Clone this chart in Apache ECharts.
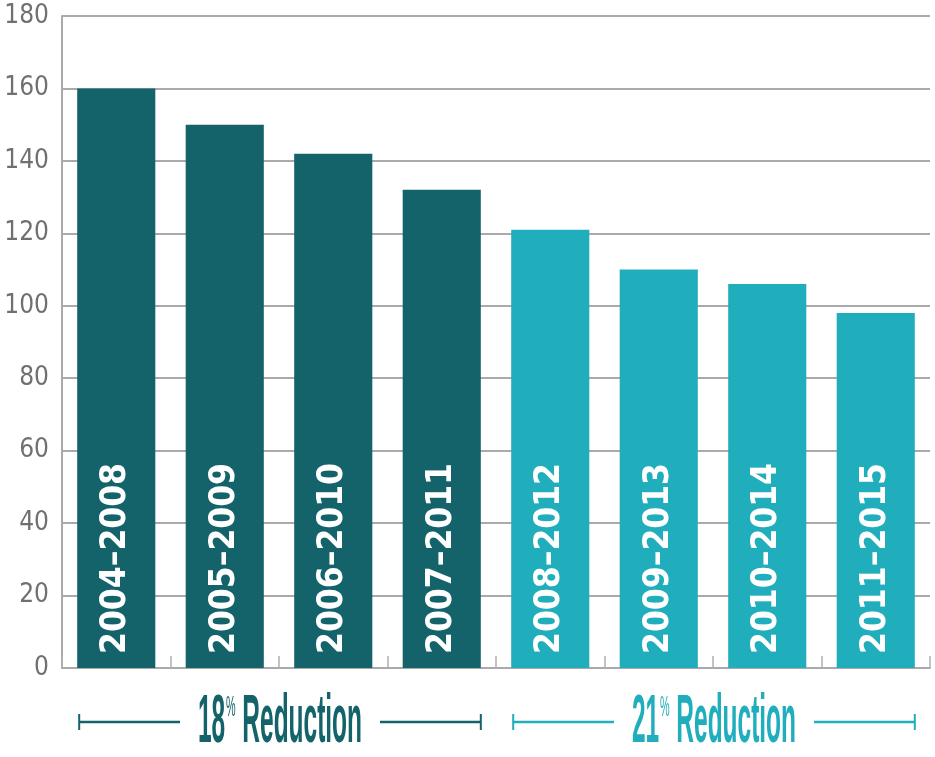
<!DOCTYPE html>
<html>
<head>
<meta charset="utf-8">
<script src="https://cdn.jsdelivr.net/npm/echarts@6/dist/echarts.min.js"></script>
<style>
html,body{margin:0;padding:0;background:#fff;}
#c{width:935px;height:757px;}
</style>
</head>
<body>
<div id="c"></div>
<script>
const categories = ['2004–2008','2005–2009','2006–2010','2007–2011','2008–2012','2009–2013','2010–2014','2011–2015'];
const values = [160, 150, 142, 132, 121, 110, 106, 98];
const periodGroup = [0, 0, 0, 0, 1, 1, 1, 1];
const groupLabels = ['18', '21'];
const groupSuffix = ' Reduction';
const yTicks = [0, 20, 40, 60, 80, 100, 120, 140, 160, 180];

const colors = ['#14636b', '#21aebc'];

const chart = echarts.init(document.getElementById('c'));

const option = {
  animation: false,
  backgroundColor: '#fff',
  grid: { left: 62, right: 5, top: 16, bottom: 89 },
  xAxis: {
    type: 'category',
    data: categories,
    axisLine: { lineStyle: { color: '#aaaaaa', width: 2 } },
    axisTick: { show: true, inside: true, length: 12, lineStyle: { color: '#b0b0b0', width: 1.5 } },
    axisLabel: { show: false }
  },
  yAxis: {
    type: 'value',
    min: yTicks[0],
    max: yTicks[yTicks.length - 1],
    interval: yTicks[1] - yTicks[0],
    axisLine: { show: true, lineStyle: { color: '#aaaaaa', width: 2 } },
    axisTick: { show: false },
    splitLine: { lineStyle: { color: '#aaaaaa', width: 2 } },
    axisLabel: {
      color: '#707070',
      fontFamily: 'DejaVu Sans Condensed',
      fontWeight: 'normal',
      fontSize: 26,
      margin: 13
    }
  },
  series: [{
    type: 'bar',
    barWidth: '72%',
    data: values.map((v, i) => ({ value: v, itemStyle: { color: colors[periodGroup[i]] } })),
    label: {
      show: true,
      position: 'insideBottom',
      rotate: 90,
      align: 'left',
      verticalAlign: 'middle',
      distance: 14,
      formatter: '{b}',
      color: '#ffffff',
      fontFamily: 'DejaVu Sans Condensed',
      fontWeight: 'bold',
      fontSize: 35
    }
  }]
};
chart.setOption(option);

// Group annotations below the axis
const graphics = [];
const bandW = chart.convertToPixel({ xAxisIndex: 0 }, 1) - chart.convertToPixel({ xAxisIndex: 0 }, 0);
const barW = bandW * 0.72;
const y0 = chart.convertToPixel({ yAxisIndex: 0 }, 0);
const annY = y0 + 54;
groupLabels.forEach((g, gi) => {
  const idx = periodGroup.map((p, i) => p === gi ? i : -1).filter(i => i >= 0);
  const left = chart.convertToPixel({ xAxisIndex: 0 }, idx[0]) - barW / 2 + 2;
  const right = chart.convertToPixel({ xAxisIndex: 0 }, idx[idx.length - 1]) + barW / 2;
  const cx = (left + right) / 2;
  const col = colors[gi];
  const half = 100;
  graphics.push(
    { type: 'line', shape: { x1: left, y1: annY, x2: cx - half, y2: annY }, style: { stroke: col, lineWidth: 2.5 } },
    { type: 'line', shape: { x1: left, y1: annY - 8, x2: left, y2: annY + 8 }, style: { stroke: col, lineWidth: 2 } },
    { type: 'line', shape: { x1: cx + half, y1: annY, x2: right, y2: annY }, style: { stroke: col, lineWidth: 2.5 } },
    { type: 'line', shape: { x1: right, y1: annY - 8, x2: right, y2: annY + 8 }, style: { stroke: col, lineWidth: 2 } },
    {
      type: 'text',
      x: cx,
      y: annY + 1,
      scaleX: 0.36,
      style: {
        text: '{n|' + g + '}{p|%}{n|' + groupSuffix + '}',
        align: 'center',
        verticalAlign: 'middle',
        rich: {
          n: { fontFamily: 'Liberation Sans', fontWeight: 'bold', fontSize: 68, fill: col, lineHeight: 68 },
          p: { fontFamily: 'Liberation Sans', fontWeight: 'normal', fontSize: 30, fill: col, verticalAlign: 'top', lineHeight: 68, padding: [4, 0, 0, 2] }
        }
      }
    }
  );
});
chart.setOption({ graphic: graphics });
</script>
</body>
</html>
